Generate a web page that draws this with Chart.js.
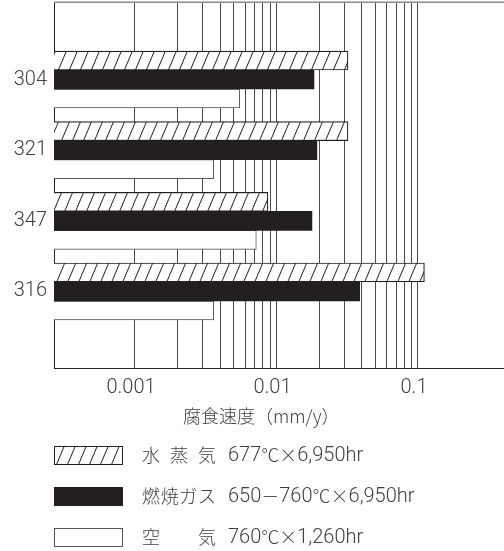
<!DOCTYPE html>
<html>
<head>
<meta charset="utf-8">
<script src="https://cdn.jsdelivr.net/npm/chart.js@4/dist/chart.umd.min.js"></script>
<style>
  html, body { margin: 0; padding: 0; background: #fff; overflow: hidden; }
  canvas { display: block; }
</style>
</head>
<body>
<canvas id="c" width="504" height="551"></canvas>
<script>
// Corrosion rate (mm/y) of stainless grades under three exposure conditions
const materials = ['304', '321', '347', '316'];
const steamRate = [0.032, 0.032, 0.0087, 0.111];
const flueGasRate = [0.0184, 0.0193, 0.0178, 0.0387];
const airRate = [0.0055, 0.0036, 0.0072, 0.0036];

const seriesNames = ['水蒸気', '燃焼ガス', '空気'];
const seriesConditions = ['677℃×6,950hr', '650－760℃×6,950hr', '760℃×1,260hr'];
const decadeLabels = ['0.001', '0.01', '0.1'];
const axisTitle = '腐食速度（mm/y）';

const INK = '#231f20';
const TEXT = '#404040';
const CJK = '"Noto Sans CJK JP", "Noto Sans", sans-serif';
const NUM = 'Roboto, "Liberation Sans", sans-serif';

const canvas = document.getElementById('c');
const ctx = canvas.getContext('2d');

// diagonal "/" hatch on white
function makeHatch() {
  const w = 11, h = 26;
  const tile = document.createElement('canvas');
  tile.width = w; tile.height = h;
  const g = tile.getContext('2d');
  g.fillStyle = '#fff';
  g.fillRect(0, 0, w, h);
  g.strokeStyle = INK;
  g.lineWidth = 1;
  for (const dx of [-w, 0, w]) {
    g.beginPath();
    g.moveTo(dx, h);
    g.lineTo(dx + w, 0);
    g.stroke();
  }
  return ctx.createPattern(tile, 'repeat');
}
const hatch = makeHatch();

// log grid: 1..9 within each decade, up to 0.1
const gridValues = [];
[0.001, 0.01].forEach(d => { for (let k = 1; k <= 9; k++) gridValues.push(+(k * d).toPrecision(6)); });
gridValues.push(0.1);

function decadeLabel(v) {
  const e = Math.log10(v);
  const r = Math.round(e);
  return Math.abs(e - r) < 1e-9 ? (decadeLabels[r + 3] || '') : '';
}

const points = arr => arr.map((v, i) => ({ x: v, y: i + 1 }));

const seriesStyle = [
  { backgroundColor: hatch, borderColor: INK, borderWidth: 1.2 },
  { backgroundColor: INK, borderColor: INK, borderWidth: 0 },
  { backgroundColor: '#ffffff', borderColor: '#555555', borderWidth: 1 }
];

const CJK_FONT = '300 18px ' + CJK;
const NUM_FONT = '300 20px ' + NUM;

// Latin runs in the numeral face, everything else in the CJK face
function drawMixed(c, text, x, y) {
  const runs = text.match(/[\x20-\x7e]+|[^\x20-\x7e]+/g) || [];
  runs.forEach(run => {
    c.font = /^[\x20-\x7e]/.test(run) ? NUM_FONT : CJK_FONT;
    c.fillText(run, x, y);
    x += c.measureText(run).width;
  });
}

const framePlugin = {
  id: 'frame',
  afterDraw(chart) {
    const c = chart.ctx;
    const a = chart.chartArea;
    c.save();
    // top edge of the plot frame
    c.strokeStyle = '#8a8a8a';
    c.lineWidth = 1.5;
    c.beginPath();
    c.moveTo(a.left, a.top + 0.25);
    c.lineTo(a.right, a.top + 0.25);
    c.stroke();

    // axis title
    c.fillStyle = TEXT;
    c.font = CJK_FONT;
    c.textBaseline = 'middle';
    c.textAlign = 'left';
    c.fillText(axisTitle, 183, 416);

    // legend
    const rowTop = [446, 487, 528];
    const boxX = 54, boxW = 69, boxH = 19;
    chart.data.datasets.forEach((ds, i) => {
      const y = rowTop[i];
      c.fillStyle = ds.backgroundColor;
      c.fillRect(boxX, y, boxW, boxH);
      if (ds.borderWidth > 0) {
        c.strokeStyle = ds.borderColor;
        c.lineWidth = 1;
        c.strokeRect(boxX + 0.5, y + 0.5, boxW - 1, boxH - 1);
      }
      const cy = y + boxH / 2;
      c.fillStyle = TEXT;
      c.font = CJK_FONT;
      // name spread across a fixed column
      const chars = [...seriesNames[i]];
      const x0 = 142, x1 = 216;
      const cw = c.measureText(chars[0]).width;
      const step = chars.length > 1 ? (x1 - x0 - cw) / (chars.length - 1) : 0;
      chars.forEach((ch, k) => c.fillText(ch, x0 + k * step, cy));
      drawMixed(c, seriesConditions[i], 228, cy);
    });
    c.restore();
  }
};

new Chart(ctx, {
  type: 'bar',
  data: {
    datasets: [
      { label: seriesNames[0], data: points(steamRate), ...seriesStyle[0] },
      { label: seriesNames[1], data: points(flueGasRate), ...seriesStyle[1] },
      { label: seriesNames[2], data: points(airRate), ...seriesStyle[2] }
    ]
  },
  options: {
    indexAxis: 'y',
    responsive: false,
    animation: false,
    devicePixelRatio: 1,
    layout: { padding: { top: 2, left: 0, right: 0, bottom: 0 } },
    datasets: { bar: { barThickness: 19, borderSkipped: 'start' } },
    plugins: { legend: { display: false }, tooltip: { enabled: false } },
    scales: {
      x: {
        type: 'logarithmic',
        min: 2.677e-4,
        max: 0.4053,
        offset: false,
        afterBuildTicks: s => { s.ticks = gridValues.map(v => ({ value: v })); },
        afterFit: s => { s.height = 183; s.paddingLeft = 0; s.paddingRight = 0; },
        grid: { color: '#4a4a4a', lineWidth: 1, drawTicks: false, offset: false },
        border: { display: true, color: '#222', width: 1 },
        ticks: {
          autoSkip: false, maxRotation: 0, minRotation: 0,
          padding: 8, labelOffset: -4,
          color: TEXT,
          font: { family: NUM, size: 20, weight: 300 },
          callback: v => decadeLabel(v)
        }
      },
      y: {
        type: 'linear',
        reverse: true,
        min: -0.097,
        max: 5.083,
        offset: false,
        afterBuildTicks: s => { s.ticks = materials.map((m, i) => ({ value: i + 1 })); },
        afterFit: s => { s.width = 54; s.paddingTop = 0; s.paddingBottom = 0; },
        grid: { display: false, drawTicks: false, offset: false },
        border: { display: true, color: '#222', width: 1 },
        ticks: {
          padding: 7,
          color: TEXT,
          font: { family: NUM, size: 20, weight: 300 },
          callback: v => materials[v - 1]
        }
      }
    }
  },
  plugins: [framePlugin]
});
</script>
</body>
</html>
